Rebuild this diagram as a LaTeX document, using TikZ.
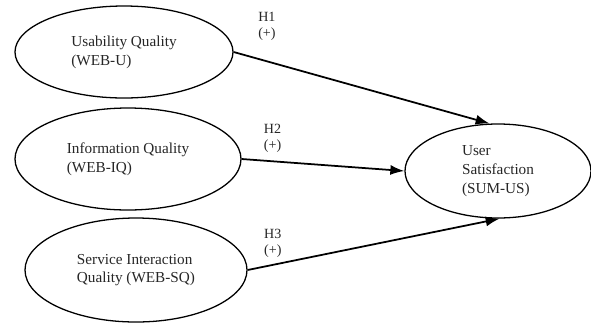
\documentclass[tikz,border=0pt]{standalone}
\usepackage{fontspec}
\setmainfont{Liberation Serif}
\usetikzlibrary{shapes.geometric,arrows.meta}
\begin{document}
\begin{tikzpicture}[x=0.03cm,y=-0.03cm,>={Latex[length=4.2mm,width=3mm]},
    construct/.style={draw,ellipse,line width=1.1pt,inner sep=0pt,align=left,
      font=\fontsize{13}{16}\selectfont,text=black!85},
    link/.style={->,line width=1.5pt},
    hyp/.style={font=\fontsize{12}{14}\selectfont,align=left,inner sep=1pt,text=black!85}]
  \useasboundingbox (0,0) rectangle (591,324);

  % exogenous constructs
  \node (usab) [construct,minimum width=6.54cm,minimum height=2.76cm] at (124,52)  {Usability Quality\\(WEB-U)};
  \node (info) [construct,minimum width=6.78cm,minimum height=3.06cm] at (128,159) {Information Quality\\(WEB-IQ)};
  \node (serv) [construct,minimum width=6.66cm,minimum height=3.12cm] at (136,270) {Service Interaction\\Quality (WEB-SQ)};
  % endogenous construct
  \node (sat)  [construct,minimum width=5.58cm,minimum height=2.82cm] at (498,171) {User\\Satisfaction\\(SUM-US)};

  \draw [link] (usab.east) to node [hyp,pos=0.13,above=0.55cm] (h1) {H1\\(+)} (sat.100);
  \draw [link] (info.east) to node [hyp,pos=0.19,above=0.2cm]  (h2) {H2\\(+)} (sat.west);
  \draw [link] (serv.east) to node [hyp,pos=0.10,above=0.15cm] (h3) {H3\\(+)} (sat.272);
\end{tikzpicture}
\end{document}
